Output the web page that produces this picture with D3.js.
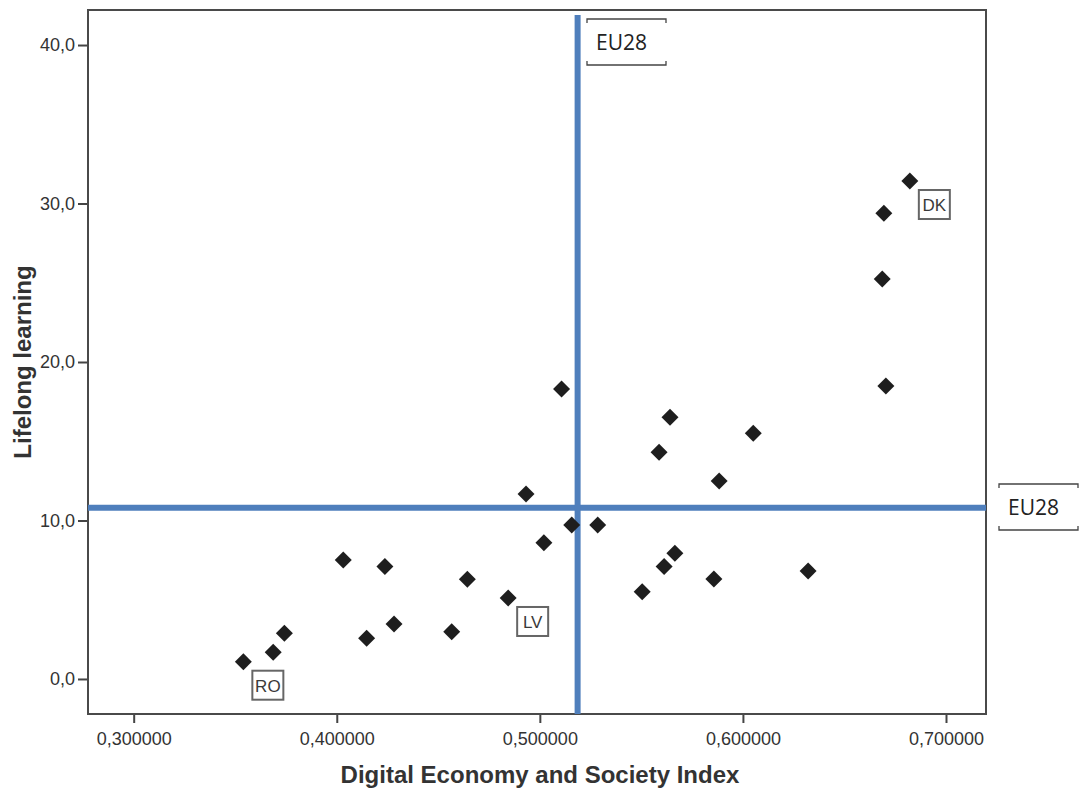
<!DOCTYPE html>
<html>
<head>
<meta charset="utf-8">
<script src="https://cdn.jsdelivr.net/npm/d3@7/dist/d3.min.js"></script>
<style>
  body { margin: 0; background: #fff; }
  svg { display: block; }
</style>
</head>
<body>
<svg id="chart"></svg>
<script>
var width = 1079;
var height = 791;

// DESI score and lifelong learning (%) per EU member state
var desi = [0.3540, 0.3687, 0.3742, 0.4032, 0.4147, 0.4237, 0.4282, 0.4566, 0.4643, 0.4844,
            0.4932, 0.5020, 0.5107, 0.5157, 0.5285, 0.5504, 0.5612, 0.5665, 0.5587, 0.5641,
            0.5857, 0.5883, 0.6051, 0.6321, 0.6686, 0.6694, 0.6704, 0.6822];
var lifelong = [1.09, 1.68, 2.88, 7.51, 2.57, 7.09, 3.47, 2.98, 6.29, 5.11,
                11.67, 8.60, 18.30, 9.72, 9.72, 5.51, 7.09, 7.93, 14.30, 16.51,
                6.31, 12.49, 15.50, 6.81, 25.24, 29.38, 18.49, 31.42];
var countryLabel = ["RO", "", "", "", "", "", "", "", "", "LV",
                    "", "", "", "", "", "", "", "", "", "",
                    "", "", "", "", "", "", "", "DK"];

var eu28Desi = 0.5186;
var eu28Lifelong = 10.8;

var xTicks = [0.3, 0.4, 0.5, 0.6, 0.7];
var yTicks = [0, 10, 20, 30, 40];

var plotLeft = 88, plotRight = 986, plotTop = 10, plotBottom = 714;

var xScale = d3.scaleLinear()
    .domain([0.2775, 0.7197])
    .range([plotLeft, plotRight]);
var yScale = d3.scaleLinear()
    .domain([-2.21, 42.21])
    .range([plotBottom, plotTop]);

var svg = d3.select('#chart')
    .attr('width', width)
    .attr('height', height);

var comma = function(f) { return function(v) { return f(v).replace('.', ','); }; };

var xAxis = d3.axisBottom(xScale)
    .tickValues(xTicks)
    .tickSize(9)
    .tickPadding(9)
    .tickFormat(comma(d3.format('.6f')));
var yAxis = d3.axisLeft(yScale)
    .tickValues(yTicks)
    .tickSize(10)
    .tickPadding(3)
    .tickFormat(comma(d3.format('.1f')));

var gx = svg.append('g')
    .attr('transform', 'translate(0,' + plotBottom + ')')
    .call(xAxis);
var gy = svg.append('g')
    .attr('transform', 'translate(' + plotLeft + ',0)')
    .call(yAxis);

[gx, gy].forEach(function(g) {
  g.select('.domain').remove();
  g.selectAll('line').attr('stroke', '#444').attr('stroke-width', 2);
  g.selectAll('text')
    .attr('fill', '#333')
    .style('font-family', 'Liberation Sans, Arial, sans-serif')
    .style('font-size', '18px');
});

// frame
svg.append('rect')
    .attr('x', plotLeft)
    .attr('y', plotTop)
    .attr('width', plotRight - plotLeft)
    .attr('height', plotBottom - plotTop)
    .attr('fill', 'none')
    .attr('stroke', '#4a4a4a')
    .attr('stroke-width', 2);

// EU28 reference lines
svg.append('line')
    .attr('x1', plotLeft).attr('x2', plotRight)
    .attr('y1', yScale(eu28Lifelong)).attr('y2', yScale(eu28Lifelong))
    .attr('stroke', '#4f7fbc').attr('stroke-width', 6);
svg.append('line')
    .attr('x1', xScale(eu28Desi)).attr('x2', xScale(eu28Desi))
    .attr('y1', 15).attr('y2', plotBottom)
    .attr('stroke', '#4f7fbc').attr('stroke-width', 6);

// points
var points = desi.map(function(d, i) { return {x: d, y: lifelong[i], label: countryLabel[i]}; });

svg.append('g')
  .selectAll('path')
  .data(points)
  .enter()
  .append('path')
    .attr('d', d3.symbol().type(d3.symbolSquare).size(144))
    .attr('transform', d => 'translate(' + xScale(d.x) + ',' + yScale(d.y) + ') rotate(45)')
    .attr('fill', '#1e1e1e');

// country labels
var lab = svg.append('g')
  .selectAll('g')
  .data(points.filter(d => d.label))
  .enter()
  .append('g')
    .attr('transform', d => 'translate(' + (xScale(d.x) + 9) + ',' + (yScale(d.y) + 9) + ')');
lab.append('rect')
    .attr('width', 31)
    .attr('height', 29)
    .attr('fill', '#fff')
    .attr('stroke', '#666')
    .attr('stroke-width', 2);
lab.append('text')
    .attr('x', 15.5)
    .attr('y', 21)
    .attr('text-anchor', 'middle')
    .attr('fill', '#3a3a3a')
    .style('font-family', 'Liberation Sans, Arial, sans-serif')
    .style('font-size', '17px')
    .text(d => d.label);

// EU28 bracket labels
function bracket(x, y, w, h) {
  var g = svg.append('g');
  g.append('path')
    .attr('d', 'M' + x + ',' + (y + 4) + 'V' + y + 'H' + (x + w) + 'V' + (y + 4) +
               'M' + x + ',' + (y + h - 4) + 'V' + (y + h) + 'H' + (x + w) + 'V' + (y + h - 4))
    .attr('fill', 'none')
    .attr('stroke', '#444')
    .attr('stroke-width', 1.3);
  g.append('text')
    .attr('x', x + 9)
    .attr('y', y + h / 2 + 8)
    .attr('fill', '#222')
    .style('font-family', 'Open Sans, sans-serif')
    .style('font-size', '21px')
    .text('EU28');
}
bracket(587, 19, 79, 46);
bracket(999, 484, 79, 46);

// axis titles
svg.append('text')
    .attr('x', 540)
    .attr('y', 783)
    .attr('text-anchor', 'middle')
    .attr('fill', '#333')
    .style('font-family', 'Liberation Sans, Arial, sans-serif')
    .style('font-weight', 'bold')
    .style('font-size', '24px')
    .text('Digital Economy and Society Index');

svg.append('text')
    .attr('transform', 'rotate(-90)')
    .attr('x', -362)
    .attr('y', 31)
    .attr('text-anchor', 'middle')
    .attr('fill', '#333')
    .style('font-family', 'Liberation Sans, Arial, sans-serif')
    .style('font-weight', 'bold')
    .style('font-size', '24px')
    .text('Lifelong learning');
</script>
</body>
</html>
